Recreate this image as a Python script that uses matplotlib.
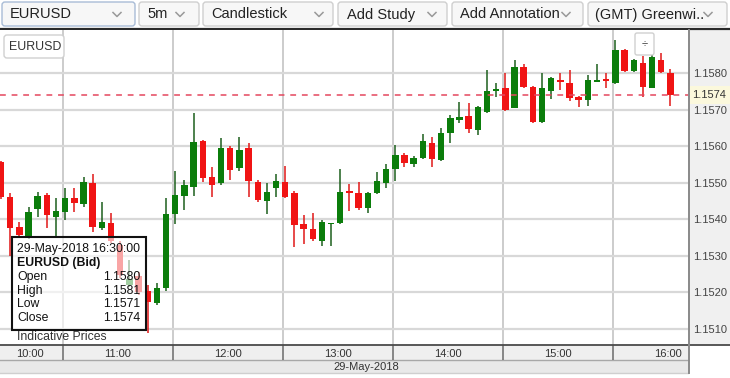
import matplotlib
matplotlib.use("Agg")
import matplotlib.pyplot as plt
from matplotlib.patches import Rectangle, FancyBboxPatch
import numpy as np

plt.rcParams['font.family'] = ['Liberation Sans', 'DejaVu Sans']

# ---------------- data ----------------
symbol = "EURUSD"
date_label = "29-May-2018"
start_minutes = 10 * 60 + 25      # first candle 10:25
interval_min = 5

opens = [1.15556, 1.15460, 1.15378, 1.15351, 1.15427, 1.15466, 1.15405, 1.15419, 1.15458, 1.15441,
         1.15499, 1.15375, 1.15389, 1.15329, 1.15219, 1.15244, 1.15205, 1.15170, 1.15211, 1.15414,
         1.15463, 1.15488, 1.15614, 1.15515, 1.15499, 1.15595, 1.15540, 1.15595, 1.15501, 1.15449,
         1.15485, 1.15501, 1.15471, 1.15386, 1.15373, 1.15340, 1.15388, 1.15389, 1.15477, 1.15471,
         1.15430, 1.15471, 1.15499, 1.15537, 1.15575, 1.15551, 1.15567, 1.15608, 1.15562, 1.15636,
         1.15671, 1.15682, 1.15644, 1.15693, 1.15751, 1.15759, 1.15704, 1.15816, 1.15762, 1.15666,
         1.15751, 1.15781, 1.15773, 1.15734, 1.15726, 1.15775, 1.15784, 1.15773, 1.15863, 1.15805,
         1.15827, 1.15759, 1.15836, 1.15800]
highs = [1.15560, 1.15471, 1.15392, 1.15433, 1.15474, 1.15471, 1.15458, 1.15485, 1.15485, 1.15515,
         1.15523, 1.15447, 1.15416, 1.15340, 1.15288, 1.15255, 1.15219, 1.15225, 1.15458, 1.15532,
         1.15507, 1.15690, 1.15616, 1.15542, 1.15622, 1.15600, 1.15625, 1.15608, 1.15507, 1.15499,
         1.15523, 1.15545, 1.15477, 1.15411, 1.15416, 1.15397, 1.15391, 1.15537, 1.15496, 1.15501,
         1.15474, 1.15529, 1.15551, 1.15603, 1.15581, 1.15573, 1.15633, 1.15625, 1.15649, 1.15685,
         1.15721, 1.15718, 1.15710, 1.15808, 1.15773, 1.15800, 1.15836, 1.15825, 1.15764, 1.15800,
         1.15789, 1.15800, 1.15808, 1.15737, 1.15795, 1.15825, 1.15800, 1.15890, 1.15865, 1.15838,
         1.15847, 1.15852, 1.15855, 1.15810]
lows = [1.15455, 1.15301, 1.15348, 1.15345, 1.15405, 1.15375, 1.15353, 1.15397, 1.15419, 1.15433,
        1.15364, 1.15370, 1.15335, 1.15240, 1.15215, 1.15192, 1.15090, 1.15167, 1.15205, 1.15386,
        1.15425, 1.15463, 1.15501, 1.15460, 1.15493, 1.15507, 1.15532, 1.15460, 1.15447, 1.15414,
        1.15460, 1.15459, 1.15323, 1.15332, 1.15342, 1.15326, 1.15326, 1.15388, 1.15422, 1.15425,
        1.15416, 1.15468, 1.15485, 1.15504, 1.15542, 1.15542, 1.15564, 1.15542, 1.15559, 1.15608,
        1.15663, 1.15636, 1.15630, 1.15690, 1.15734, 1.15697, 1.15703, 1.15759, 1.15663, 1.15664,
        1.15729, 1.15753, 1.15723, 1.15707, 1.15710, 1.15775, 1.15759, 1.15771, 1.15803, 1.15803,
        1.15734, 1.15759, 1.15800, 1.15710]
closes = [1.15460, 1.15375, 1.15356, 1.15419, 1.15463, 1.15411, 1.15422, 1.15458, 1.15444, 1.15501,
          1.15378, 1.15392, 1.15342, 1.15247, 1.15238, 1.15200, 1.15173, 1.15211, 1.15414, 1.15466,
          1.15493, 1.15611, 1.15512, 1.15493, 1.15595, 1.15534, 1.15589, 1.15504, 1.15452, 1.15474,
          1.15504, 1.15460, 1.15384, 1.15373, 1.15345, 1.15392, 1.15391, 1.15474, 1.15471, 1.15430,
          1.15471, 1.15504, 1.15537, 1.15575, 1.15553, 1.15567, 1.15614, 1.15564, 1.15636, 1.15677,
          1.15679, 1.15647, 1.15707, 1.15751, 1.15756, 1.15699, 1.15816, 1.15762, 1.15666, 1.15759,
          1.15786, 1.15775, 1.15732, 1.15727, 1.15781, 1.15781, 1.15778, 1.15863, 1.15805, 1.15836,
          1.15762, 1.15844, 1.15803, 1.15740]

hour_labels = ["10:00", "11:00", "12:00", "13:00", "14:00", "15:00", "16:00"]
price_ticks = [1.1510, 1.1520, 1.1530, 1.1540, 1.1550, 1.1560, 1.1570, 1.1580]
last_price = 1.1574

tooltip_title = "29-May-2018 16:30:00"
tooltip_subtitle = "EURUSD (Bid)"
tooltip_fields = ["Open", "High", "Low", "Close"]
tooltip_values = ["1.1580", "1.1581", "1.1571", "1.1574"]
footer_text = "Indicative Prices"
toolbar_items = ["EURUSD", "5m", "Candlestick", "Add Study", "Add Annotation", "(GMT) Greenwi.."]

# ---------------- figure ----------------
W, H = 730, 378
fig = plt.figure(figsize=(W / 100, H / 100), dpi=100)
fig.patch.set_facecolor('white')

bg = fig.add_axes([0, 0, 1, 1])
bg.set_zorder(0)
PL, PR, PT, PB = 0, 688, 30, 345   # plot area in pixels
ax = fig.add_axes([PL / W, (H - PB) / H, (PR - PL) / W, (PB - PT) / H])
ax.set_zorder(1)
fg = fig.add_axes([0, 0, 1, 1])
fg.set_zorder(2)
for a in (bg, fg):
    a.set_xlim(0, W)
    a.set_ylim(H, 0)
    a.axis('off')
fg.patch.set_visible(False)

# ---------------- toolbar ----------------
box_x = [(2, 135), (139, 199), (203, 333), (338, 447), (452, 583), (588, 727)]
chev_x = [117, 180, 319, 432, 566, 708]
text_x = [10, 147, 211, 347, 460, 595]
for i, (label, (x0, x1)) in enumerate(zip(toolbar_items, box_x)):
    ec = '#a9bcd6' if i == 0 else '#cfcfcf'
    bg.add_patch(FancyBboxPatch((x0, 2), x1 - x0, 24,
                                boxstyle="round,pad=0,rounding_size=3",
                                fc='#f7f7f7', ec=ec, lw=1.0))
    bg.text(text_x[i], 14.5, label, fontsize=10.5, color='#222', va='center', ha='left')
    cx = chev_x[i]
    bg.plot([cx - 4, cx, cx + 4], [12.5, 16.5, 12.5], color='#9a9a9a', lw=1.1)
bg.plot([0, W], [29, 29], color='#2a2a2a', lw=1.6)

# right price panel
bg.add_patch(Rectangle((PR, PT), W - PR, PB - PT, fc='#f0f0f0', ec='none'))
# x-axis bands
bg.add_patch(Rectangle((0, PB), PR, 15, fc='#efefef', ec='none'))
bg.add_patch(Rectangle((0, PB + 15), PR, 13, fc='#e9e9e9', ec='none'))
bg.plot([0, PR], [PB + 15, PB + 15], color='#a8a8a8', lw=1.0)
bg.plot([0, PR], [PB + 28, PB + 28], color='#cfcfcf', lw=1.0)
bg.text(366, PB + 22, date_label, fontsize=8, color='#333', ha='center', va='center')
fg.plot([0, W], [PB, PB], color='#4a4a4a', lw=1.3)
fg.plot([PR + 0.5, PR + 0.5], [PT, PB + 28], color='#8a8a8a', lw=1.4)

# ---------------- candles ----------------
o = np.array(opens); h = np.array(highs); l = np.array(lows); c = np.array(closes)
n = len(o)
k = np.arange(n)
up = c >= o
body_col = np.where(up, '#0b7d0b', '#f01414')
wick_col = np.where(up, '#1c5f1c', '#e01818')
bottoms = np.minimum(o, c)
heights = np.maximum(np.abs(c - o), 0.00003)

ax.vlines(k, l, h, colors=wick_col, lw=1.1, zorder=3)
ax.bar(k, heights, bottom=bottoms, width=0.7, color=body_col, lw=0, zorder=4)
ax.axhline(last_price, color='#e4475e', lw=1.1, ls=(0, (3.8, 3.8)), zorder=5)

ax.set_xlim(-0.11, 74.92)
ax.set_ylim(1.150563, 1.159176)

# hour grid (cell boundaries) and labels (cell centres)
hour_idx = [(int(s[:2]) * 60 - start_minutes) / interval_min for s in hour_labels]
grid_pos = [hk - 0.25 for hk in hour_idx if hk - 0.25 > -0.11]
lab_pos = [max(hk - 0.25 + 6, -0.11 + 3.3) for hk in hour_idx]
ax.set_xticks(grid_pos)
ax.set_xticklabels([])
ax.set_xticks(lab_pos, minor=True)
ax.set_xticklabels(hour_labels, minor=True)
ax.tick_params(axis='x', which='both', length=0)
ax.tick_params(axis='x', which='minor', pad=3, labelsize=8, labelcolor='#333')
ax.grid(axis='x', which='major', color='#c4c4c4', lw=1.2)
ax.vlines(grid_pos, -15 / 315, 0, transform=ax.get_xaxis_transform(),
          colors='#6a6a6a', lw=1.1, clip_on=False, zorder=6)

ax.set_yticks(price_ticks)
ax.set_yticklabels([f"{p:.4f}" for p in price_ticks])
ax.yaxis.tick_right()
ax.tick_params(axis='y', length=0, pad=4, labelsize=8, labelcolor='#444')
ax.grid(axis='y', color='#d8d8d8', lw=1.6)
ax.set_axisbelow(True)
for s in ax.spines.values():
    s.set_visible(False)

ax.text(1.006, last_price, f"{last_price:.4f}", transform=ax.get_yaxis_transform(),
        fontsize=8, color='#333', va='center', ha='left', clip_on=False, zorder=10,
        bbox=dict(boxstyle='square,pad=0.35', fc='#fbf8dc', ec='none'))

# ---------------- overlays ----------------
fg.add_patch(FancyBboxPatch((4, 35), 60, 23, boxstyle="round,pad=0,rounding_size=3",
                            fc='white', ec='#d0d0d0', lw=1.0))
fg.text(9, 46.5, symbol, fontsize=8.9, color='#333', va='center', ha='left')
fg.add_patch(FancyBboxPatch((635, 33), 19, 22, boxstyle="round,pad=0,rounding_size=2",
                            fc='white', ec='#d0d0d0', lw=1.0))
fg.text(644.5, 44, "÷", fontsize=8, color='#333', va='center', ha='center')

# tooltip
fg.add_patch(Rectangle((12, 237), 134, 93, fc=(1, 1, 1, 0.62), ec='#111', lw=1.5))
fg.text(17, 249, tooltip_title, fontsize=8.8, color='#111', va='center', ha='left')
fg.text(17, 263, tooltip_subtitle, fontsize=8.8, color='#111', va='center', ha='left',
        fontweight='bold')
for i, (f, v) in enumerate(zip(tooltip_fields, tooltip_values)):
    yy = 277 + i * 13.7
    fg.text(17, yy, f, fontsize=8.8, color='#111', va='center', ha='left')
    fg.text(140, yy, v, fontsize=8.8, color='#111', va='center', ha='right')
fg.text(17, 336.5, footer_text, fontsize=8.8, color='#333', va='center', ha='left')

fig.savefig("out.png", dpi=100)
